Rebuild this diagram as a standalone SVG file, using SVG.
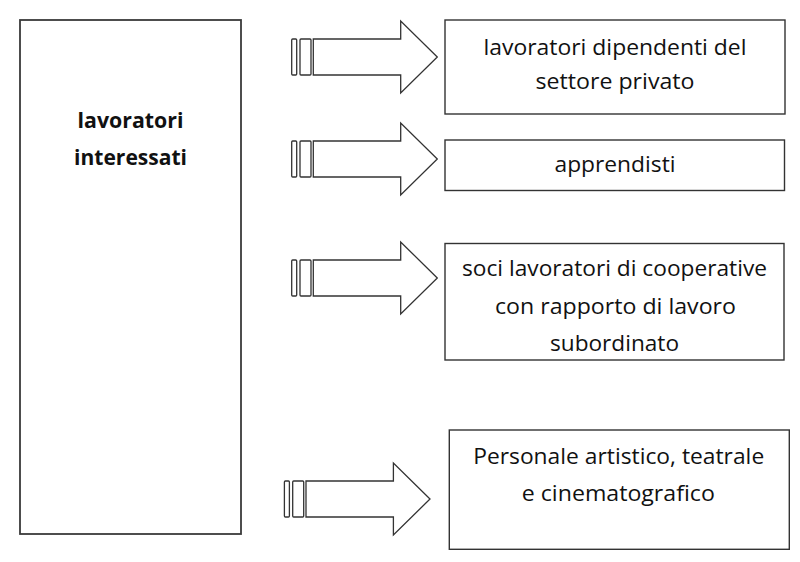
<svg xmlns="http://www.w3.org/2000/svg" width="800" height="562" viewBox="0 0 800 562">
<style>
.box{fill:#fff;stroke:#333;stroke-width:1.4}
.main{fill:#fff;stroke:#3a3a3a;stroke-width:1.8}
.arr{fill:#fff;stroke:#333;stroke-width:1.3;stroke-linejoin:miter}
.t{font-family:"Open Sans","Liberation Sans",sans-serif;font-size:21px;fill:#111;text-anchor:middle}
.b{font-weight:bold}
</style>
<rect width="800" height="562" fill="#fff"/>
<g id="main">
<rect class="main" x="20" y="20" width="221" height="514"/>
<text class="t b" x="130.5" y="128" textLength="106" lengthAdjust="spacingAndGlyphs">lavoratori</text>
<text class="t b" x="130.5" y="165" textLength="113" lengthAdjust="spacingAndGlyphs">interessati</text>
</g>
<g id="connectors">
<g id="arrow1" transform="translate(0,57)">
<rect class="arr" x="291.7" y="-18" width="5" height="36" rx="1"/>
<rect class="arr" x="300" y="-18" width="11" height="36" rx="1"/>
<polygon class="arr" points="313.3,-18 400.7,-18 400.7,-36 437.3,0 400.7,36 400.7,18 313.3,18"/>
</g>
<g id="arrow2" transform="translate(0,159)">
<rect class="arr" x="291.7" y="-18" width="5" height="36" rx="1"/>
<rect class="arr" x="300" y="-18" width="11" height="36" rx="1"/>
<polygon class="arr" points="313.3,-18 400.7,-18 400.7,-36 437.3,0 400.7,36 400.7,18 313.3,18"/>
</g>
<g id="arrow3" transform="translate(0,278)">
<rect class="arr" x="291.7" y="-18" width="5" height="36" rx="1"/>
<rect class="arr" x="300" y="-18" width="11" height="36" rx="1"/>
<polygon class="arr" points="313.3,-18 400.7,-18 400.7,-36 437.3,0 400.7,36 400.7,18 313.3,18"/>
</g>
<g id="arrow4" transform="translate(-7.3,499)">
<rect class="arr" x="291.7" y="-18" width="5" height="36" rx="1"/>
<rect class="arr" x="300" y="-18" width="11" height="36" rx="1"/>
<polygon class="arr" points="313.3,-18 400.7,-18 400.7,-36 437.3,0 400.7,36 400.7,18 313.3,18"/>
</g>
</g>
<g id="box1">
<rect class="box" x="445" y="20" width="340" height="94"/>
<text class="t" x="615" y="55" textLength="263" lengthAdjust="spacingAndGlyphs">lavoratori dipendenti del</text>
<text class="t" x="615" y="89" textLength="159" lengthAdjust="spacingAndGlyphs">settore privato</text>
</g>
<g id="box2">
<rect class="box" x="445" y="140" width="339.5" height="50.5"/>
<text class="t" x="615" y="172" textLength="121" lengthAdjust="spacingAndGlyphs">apprendisti</text>
</g>
<g id="box3">
<rect class="box" x="445" y="243.5" width="339" height="116.5"/>
<text class="t" x="614.5" y="276" textLength="305" lengthAdjust="spacingAndGlyphs">soci lavoratori di cooperative</text>
<text class="t" x="615.5" y="314" textLength="241" lengthAdjust="spacingAndGlyphs">con rapporto di lavoro</text>
<text class="t" x="614.5" y="350.5" textLength="129" lengthAdjust="spacingAndGlyphs">subordinato</text>
</g>
<g id="box4">
<rect class="box" x="449.3" y="430" width="340" height="119.3"/>
<text class="t" x="618.7" y="464" textLength="291" lengthAdjust="spacingAndGlyphs">Personale artistico, teatrale</text>
<text class="t" x="618.3" y="501" textLength="193" lengthAdjust="spacingAndGlyphs">e cinematografico</text>
</g>
</svg>
